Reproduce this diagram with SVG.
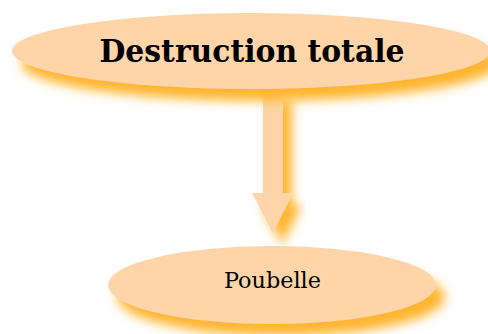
<svg xmlns="http://www.w3.org/2000/svg" width="488" height="334" viewBox="0 0 488 334">
<defs>
<filter id="sh" x="-20%" y="-40%" width="150%" height="200%">
<feDropShadow dx="9" dy="12" stdDeviation="5.5" flood-color="#FFB52E" flood-opacity="1"/>
</filter>
<style>
.n{fill:#FDD5A8;filter:url(#sh)}
.t{font-family:"DejaVu Serif","Liberation Serif",serif;fill:#000}
</style>
</defs>
<rect width="488" height="334" fill="#fff"/>
<g id="connectors">
<path class="n" d="M263,88 L283,88 L283,193 L293,193 L273,233 L252,193 L263,193 Z"/>
</g>
<g id="node-destruction">
<ellipse class="n" cx="251" cy="51" rx="239" ry="38"/>
<text class="t" x="252" y="62" font-size="31" font-weight="bold" text-anchor="middle" textLength="305" lengthAdjust="spacingAndGlyphs">Destruction totale</text>
</g>
<g id="node-poubelle">
<ellipse class="n" cx="272" cy="285" rx="164" ry="39"/>
<text class="t" x="272.5" y="288" font-size="23" text-anchor="middle" textLength="97" lengthAdjust="spacingAndGlyphs">Poubelle</text>
</g>
</svg>
